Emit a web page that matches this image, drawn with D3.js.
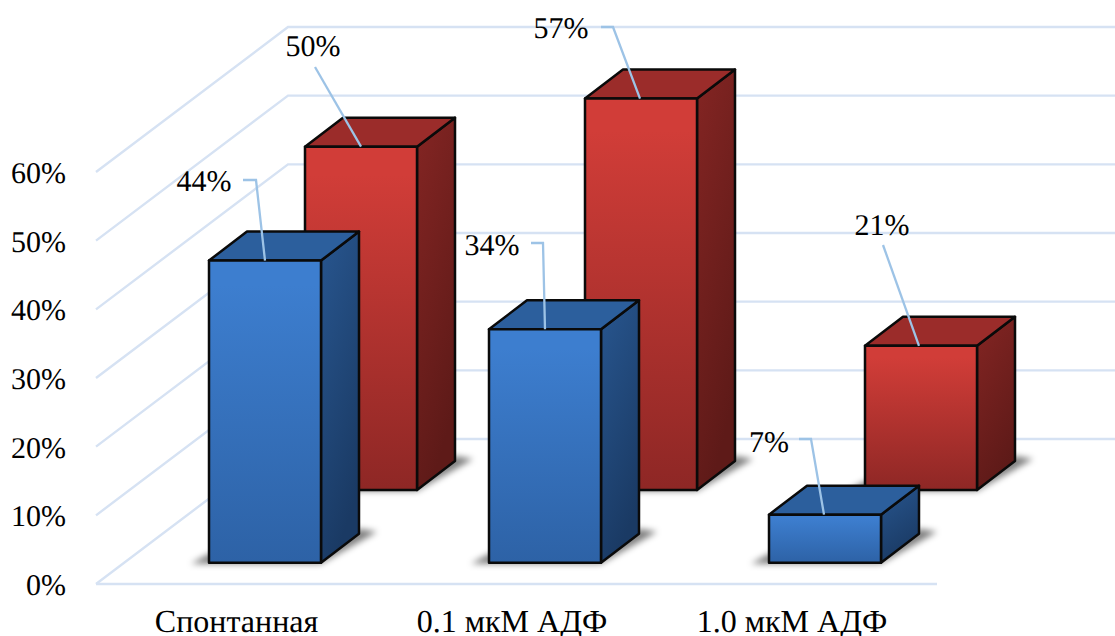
<!DOCTYPE html>
<html>
<head>
<meta charset="utf-8">
<script src="https://cdn.jsdelivr.net/npm/d3@7"></script>
<style>
html,body{margin:0;padding:0;background:#fff;overflow:hidden}
text{font-family:"Liberation Serif",serif;fill:#000;text-rendering:geometricPrecision}
</style>
</head>
<body>
<svg id="chart" width="1115" height="636"></svg>
<script>
// Platelet response per condition, percent
const categories = ["Спонтанная", "0.1 мкМ АДФ", "1.0 мкМ АДФ"];
const frontSeries = [44, 34, 7];
const backSeries = [50, 57, 21];
const axisTicks = [0, 10, 20, 30, 40, 50, 60];

const svg = d3.select("#chart");
const y = d3.scaleLinear().domain([0, 60]).range([584, 172]);
const x = d3.scalePoint().domain(categories).range([209, 769]);

// Oblique projection: wall depth, bar depth, and the row offsets of the two series
const wall = { x0: 96, dx: 192, dy: -145, right: 1115, floorRight: 937 };
const barW = 112;
const barDepth = { dx: 38, dy: -29 };
const rows = {
  front: { dx: 0, base: 562.7 },
  back: { dx: 96, base: 490 }
};
const pxPerUnit = (y(0) - y(60)) / 60;

const defs = svg.append("defs");
function vGrad(id, stops) {
  const g = defs.append("linearGradient").attr("id", id).attr("x1", 0).attr("y1", 0).attr("x2", 0).attr("y2", 1);
  stops.forEach(([o, c]) => g.append("stop").attr("offset", o).attr("stop-color", c));
}
function dGrad(id, top, bottom) {
  const g = defs.append("linearGradient").attr("id", id).attr("x1", 0).attr("y1", 0).attr("x2", 0.35).attr("y2", 1);
  g.append("stop").attr("offset", 0).attr("stop-color", top);
  g.append("stop").attr("offset", 1).attr("stop-color", bottom);
}
vGrad("blueFront", [[0, "#3d7ecf"], [0.08, "#3d7ecf"], [1, "#2d62a6"]]);
dGrad("blueSide", "#28568f", "#1a3a64");
vGrad("redFront", [[0, "#d13d38"], [0.08, "#d13d38"], [1, "#8e2725"]]);
dGrad("redSide", "#842523", "#5e1a18");
defs.append("filter").attr("id", "soft").attr("x", "-30%").attr("y", "-60%").attr("width", "160%").attr("height", "220%")
  .append("feGaussianBlur").attr("stdDeviation", 3);

// Walls: horizontal rules on the back, diagonals running to the front edge
const gridColor = "#d6e2f3";
const wallG = svg.append("g").attr("fill", "none").attr("stroke", gridColor).attr("stroke-width", 2.4);
axisTicks.forEach(t => {
  const yy = y(t);
  const backY = yy + wall.dy, backX = wall.x0 + wall.dx;
  if (t === 0) {
    wallG.append("line").attr("x1", wall.x0).attr("x2", wall.floorRight).attr("y1", yy).attr("y2", yy);
  }
  wallG.append("polyline").attr("points", [[wall.x0, yy], [backX, backY], [wall.right, backY]].join(" "));
});

// Axis labels
svg.append("g").selectAll("text").data(axisTicks).join("text")
  .attr("x", 66).attr("y", d => y(d) + 11).attr("text-anchor", "end")
  .attr("font-size", 30).text(d => d + "%");

const categoryLabelShift = [27.5, 23, 23];
svg.append("g").selectAll("text").data(categories).join("text")
  .attr("x", (d, i) => x(d) + categoryLabelShift[i]).attr("y", 632).attr("text-anchor", "middle")
  .attr("font-size", 32).text(d => d);

function drawBar(value, cat, row, fills) {
  const x0 = x(cat) + row.dx, x1 = x0 + barW;
  const yb = row.base, yt = yb - value * pxPerUnit;
  const { dx, dy } = barDepth;
  const g = svg.append("g");
  g.append("polygon").attr("fill", "#000").attr("fill-opacity", 0.5).attr("filter", "url(#soft)")
    .attr("points", [[x0 - 18, yb + 1], [x1, yb + 1], [x1 + dx + 18, yb + dy - 2], [x1 + dx, yb + dy - 5], [x1, yb - 4], [x0, yb - 9]].join(" "));
  const stroke = { stroke: "#0a0a0a", "stroke-width": 2.5, "stroke-linejoin": "round" };
  const face = (pts, fill) => {
    const p = g.append("polygon").attr("points", pts.join(" ")).attr("fill", fill);
    Object.entries(stroke).forEach(([k, v]) => p.attr(k, v));
  };
  face([[x1, yt], [x1 + dx, yt + dy], [x1 + dx, yb + dy], [x1, yb]], `url(#${fills.side})`);
  face([[x0, yt], [x1, yt], [x1 + dx, yt + dy], [x0 + dx, yt + dy]], fills.top);
  face([[x0, yt], [x1, yt], [x1, yb], [x0, yb]], `url(#${fills.front})`);
}

const blue = { front: "blueFront", side: "blueSide", top: "#2c5f9d" };
const red = { front: "redFront", side: "redSide", top: "#9b2c2a" };
categories.forEach((c, i) => drawBar(backSeries[i], c, rows.back, red));
categories.forEach((c, i) => drawBar(frontSeries[i], c, rows.front, blue));

// Value labels with leaders ending on each bar's top edge
const frontCallouts = [
  { tx: 204, ty: 181, pts: [[243, 180], [256, 180]], endDx: 56 },
  { tx: 492, ty: 245, pts: [[531, 243], [543, 243]], endDx: 56 },
  { tx: 769, ty: 442, pts: [[799, 439], [811, 439]], endDx: 55 }
];
const backCallouts = [
  { tx: 313, ty: 46, pts: [[315, 67]], endDx: 56 },
  { tx: 561, ty: 28, pts: [[601, 27], [613, 27]], endDx: 55 },
  { tx: 882, ty: 225, pts: [[883, 245]], endDx: 54 }
];
function drawCallouts(values, row, callouts) {
  values.forEach((v, i) => {
    const c = callouts[i];
    const end = [x(categories[i]) + row.dx + c.endDx, row.base - v * pxPerUnit];
    svg.append("polyline").attr("fill", "none").attr("stroke", "#9dc3e6").attr("stroke-width", 2.3)
      .attr("points", [...c.pts, end].join(" "));
    svg.append("text").attr("x", c.tx).attr("y", c.ty + 10).attr("text-anchor", "middle")
      .attr("font-size", 30).text(v + "%");
  });
}
drawCallouts(frontSeries, rows.front, frontCallouts);
drawCallouts(backSeries, rows.back, backCallouts);
</script>
</body>
</html>
